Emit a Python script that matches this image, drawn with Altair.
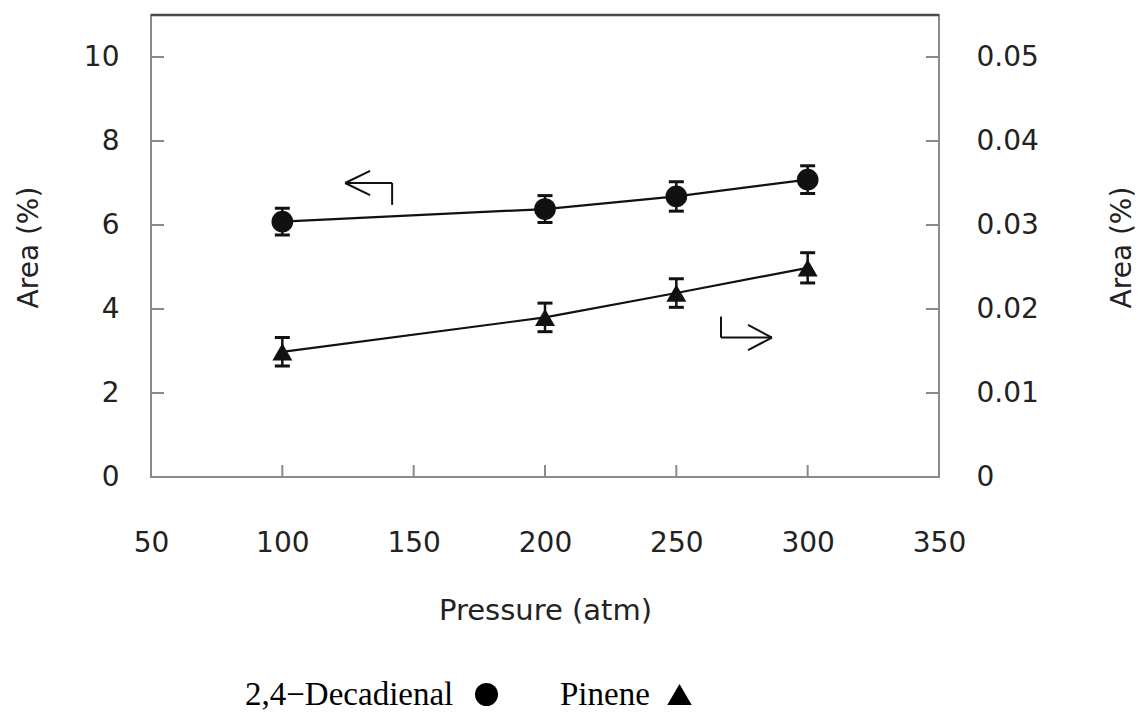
import altair as alt
import pandas as pd

# Measurements: pressure (atm) vs. peak area (%)
pressure = [100, 200, 250, 300]
decadienal = [6.08, 6.38, 6.68, 7.08]
decadienal_err = [0.32, 0.32, 0.35, 0.33]
pinene = [0.0149, 0.0190, 0.0219, 0.0249]
pinene_err = [0.0017, 0.0017, 0.0017, 0.0018]

x_tick_values = [50, 100, 150, 200, 250, 300, 350]
x_inner_ticks = [100, 150, 200, 250, 300]
left_tick_values = [0, 2, 4, 6, 8, 10]
right_tick_values = [0, 0.01, 0.02, 0.03, 0.04, 0.05]

legend_labels = ["2,4\u2212Decadienal", "Pinene"]
legend_shapes = ["circle", "triangle-up"]

# Axis-pointer arrows (segments in data units): which series uses which axis
left_arrow = {"p": [123.9, 141.8, 123.9, 123.9],
              "p2": [141.8, 141.8, 133.4, 133.4],
              "v": [7.0, 7.0, 7.0, 7.0],
              "v2": [7.0, 6.48, 7.29, 6.71]}
right_arrow = {"p": [267.0, 267.0, 286.4, 286.4],
               "p2": [267.0, 286.4, 277.3, 277.3],
               "v": [0.0191, 0.0166, 0.0166, 0.0166],
               "v2": [0.0166, 0.0166, 0.0181, 0.0151]}

W, H = 788, 462
FONT = "DejaVu Sans"
TXT = "#222222"
INK = "#111111"
FRAME = "#8a8a8a"

dec = pd.DataFrame({"p": pressure, "v": decadienal, "e": decadienal_err})
dec["lo"] = dec["v"] - dec["e"]
dec["hi"] = dec["v"] + dec["e"]
pin = pd.DataFrame({"p": pressure, "v": pinene, "e": pinene_err})
pin["lo"] = pin["v"] - pin["e"]
pin["hi"] = pin["v"] + pin["e"]

x_scale = alt.Scale(domain=[50, 350], nice=False, zero=False)
x_axis = alt.Axis(title="Pressure (atm)", values=x_tick_values, format="d",
                  ticks=False, tickSize=0, domain=False, grid=False,
                  labelPadding=74, labelBaseline="alphabetic", labelFont=FONT,
                  labelFontSize=28, labelColor=TXT, labelFlush=False,
                  labelOverlap=False, titleFont=FONT, titleFontSize=29,
                  titleFontWeight="normal", titleColor=TXT,
                  titleBaseline="alphabetic", titleY=142)

yl_scale = alt.Scale(domain=[0, 11], nice=False)
yl_axis = alt.Axis(title="Area (%)", orient="left", values=left_tick_values,
                   format="d", ticks=False, tickSize=0, domain=False, grid=False,
                   labelPadding=32, labelFont=FONT, labelFontSize=28,
                   labelColor=TXT, labelOverlap=False, labelFlush=False,
                   titleFont=FONT, titleFontSize=28, titleFontWeight="normal",
                   titleColor=TXT, titleAngle=270, titleBaseline="alphabetic",
                   titleX=-114, titleY=232)

yr_scale = alt.Scale(domain=[0, 0.055], nice=False)
yr_axis = alt.Axis(title="Area (%)", orient="right", values=right_tick_values,
                   format=".2~f", ticks=False, tickSize=0, domain=False,
                   grid=False, labelPadding=37, labelFont=FONT,
                   labelFontSize=28, labelColor=TXT, labelOverlap=False,
                   labelFlush=False, titleFont=FONT, titleFontSize=28,
                   titleFontWeight="normal", titleColor=TXT, titleAngle=270,
                   titleBaseline="alphabetic", titleX=191, titleY=232)


def X(field="p"):
    return alt.X(f"{field}:Q", scale=x_scale, axis=x_axis)


def YL(field="v"):
    return alt.Y(f"{field}:Q", scale=yl_scale, axis=yl_axis)


def YR(field="v"):
    return alt.Y(f"{field}:Q", scale=yr_scale, axis=yr_axis)


def series(df, Y, shape, size):
    base = alt.Chart(df)
    line = base.mark_line(color=INK, strokeWidth=2.2).encode(x=X(), y=Y())
    bars = base.mark_rule(color=INK, strokeWidth=2.5).encode(
        x=X(), y=Y("lo"), y2="hi")
    caps_lo = base.mark_tick(color=INK, orient="horizontal", size=15,
                             thickness=3, opacity=1).encode(x=X(), y=Y("lo"))
    caps_hi = base.mark_tick(color=INK, orient="horizontal", size=15,
                             thickness=3, opacity=1).encode(x=X(), y=Y("hi"))
    pts = base.mark_point(shape=shape, size=size, filled=True, color=INK,
                          opacity=1).encode(x=X(), y=Y())
    return [line, bars, caps_lo, caps_hi, pts]


def arrow(seg, Y):
    return alt.Chart(pd.DataFrame(seg)).mark_rule(
        color=INK, strokeWidth=2).encode(x=X(), x2="p2", y=Y(), y2="v2")


# Inward tick marks on the frame
left_ticks = alt.Chart(pd.DataFrame({"v": left_tick_values})).mark_rule(
    color=FRAME, strokeWidth=2).encode(
    y=YL(), x=alt.value(0), x2=alt.value(13))
right_ticks = alt.Chart(pd.DataFrame({"v": right_tick_values})).mark_rule(
    color=FRAME, strokeWidth=2).encode(
    y=YR(), x=alt.value(W - 13), x2=alt.value(W))
bottom_ticks = alt.Chart(pd.DataFrame({"p": x_inner_ticks})).mark_rule(
    color=FRAME, strokeWidth=2).encode(
    x=X(), y=alt.value(H), y2=alt.value(H - 12))
top_edge = alt.Chart(pd.DataFrame({"p": [50]})).mark_rule(
    color="#4a4a4a", strokeWidth=2.5).encode(
    x=alt.value(0), x2=alt.value(W), y=alt.value(0))

# Legend row below the x-axis title: label followed by its marker
legend_marks = []
for label, shape, tx, sx, ssize in zip(legend_labels, legend_shapes,
                                        [94, 409], [335.5, 528.5], [529, 600]):
    row = alt.Chart(pd.DataFrame({"label": [label]}))
    legend_marks.append(row.mark_text(
        align="left", baseline="alphabetic", font="Liberation Serif",
        fontSize=33, color="#000000").encode(
        text="label:N", x=alt.value(tx), y=alt.value(690)))
    legend_marks.append(row.mark_point(
        shape=shape, size=ssize, filled=True, color="#000000",
        opacity=1).encode(x=alt.value(sx), y=alt.value(679.5)))

left_group = alt.layer(
    left_ticks, bottom_ticks, top_edge,
    *series(dec, YL, "circle", 470),
    arrow(left_arrow, YL),
    *legend_marks,
)
right_group = alt.layer(
    right_ticks,
    *series(pin, YR, "triangle-up", 400),
    arrow(right_arrow, YR),
)

chart = alt.layer(left_group, right_group).resolve_scale(
    y="independent"
).properties(
    width=W,
    height=H,
    autosize="none",
    background="white",
    padding={"left": 151, "top": 15, "right": 201, "bottom": 243},
).configure_view(
    stroke=FRAME, strokeWidth=2
)

chart.save("out.html", embed_options={"renderer": "svg", "actions": False})
